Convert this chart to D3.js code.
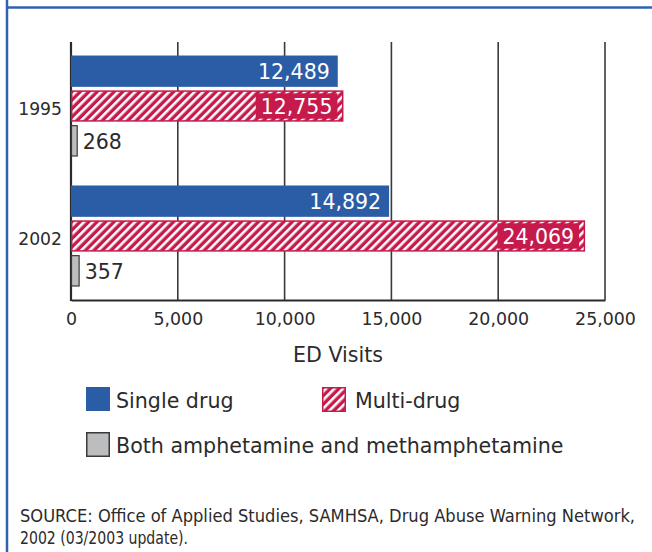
<!DOCTYPE html>
<html>
<head>
<meta charset="utf-8">
<script src="https://cdn.jsdelivr.net/npm/d3@7"></script>
<style>
  html, body { margin: 0; padding: 0; background: #fff; }
  svg { display: block; }
  text { font-family: "DejaVu Sans", sans-serif; fill: #2b2b2b; }
</style>
</head>
<body>
<svg id="chart" width="652" height="552"></svg>
<script>
// ---- Data ----
const years = ["1995", "2002"];
const seriesNames = ["Single drug", "Multi-drug", "Both amphetamine and methamphetamine"];
const singleDrug = [12489, 14892];
const multiDrug = [12755, 24069];
const bothDrugs = [268, 357];
const xTickValues = [0, 5000, 10000, 15000, 20000, 25000];
const axisTitle = "ED Visits";
const sourceLines = [
  "SOURCE:  Office of Applied Studies, SAMHSA, Drug Abuse Warning Network,",
  "2002 (03/2003 update)."
];

// ---- Styles ----
const BLUE = "#2a5da6";
const CRIMSON = "#c61a4c";
const GRAY = "#bcbdbf";
const FRAME = "#2f63ae";
const GRID = "#3a3a3a";

const svg = d3.select("#chart");
const fmt = d3.format(",");

// pattern for multi-drug
const defs = svg.append("defs");
const pat = defs.append("pattern")
  .attr("id", "hatch")
  .attr("patternUnits", "userSpaceOnUse")
  .attr("width", 6).attr("height", 6)
  .attr("patternTransform", "rotate(45)");
pat.append("rect").attr("width", 6).attr("height", 6).attr("fill", CRIMSON);
pat.append("rect").attr("x", 0).attr("width", 2.6).attr("height", 6).attr("fill", "#fff");

// frame
svg.append("line").attr("x1", 7).attr("x2", 7).attr("y1", 0).attr("y2", 552)
  .attr("stroke", FRAME).attr("stroke-width", 2.5);
svg.append("line").attr("x1", 7).attr("x2", 652).attr("y1", 7.5).attr("y2", 7.5)
  .attr("stroke", FRAME).attr("stroke-width", 2.5);

// scales
const plotTop = 42, plotBottom = 300;
const x = d3.scaleLinear().domain([0, 25000]).range([71, 605]);
const y = d3.scaleBand().domain(years).range([plotTop, plotBottom])
  .paddingInner(0.223).paddingOuter(0.104);
const ySub = d3.scaleBand().domain(seriesNames).range([0, y.bandwidth()])
  .paddingInner(0.1).paddingOuter(0);

// gridlines
svg.append("g").selectAll("line").data(xTickValues.slice(1)).join("line")
  .attr("x1", d => x(d)).attr("x2", d => x(d))
  .attr("y1", plotTop).attr("y2", plotBottom)
  .attr("stroke", GRID).attr("stroke-width", 1.6);

// x axis
const xAxis = svg.append("g").attr("transform", `translate(0,${plotBottom})`)
  .call(d3.axisBottom(x).tickValues(xTickValues).tickFormat(fmt).tickSize(0).tickPadding(10));
xAxis.select(".domain").attr("stroke", "#2b2b2b").attr("stroke-width", 2.2);
xAxis.selectAll("text").attr("font-size", "17.4px").attr("font-family", "DejaVu Sans")
  .attr("fill", "#2b2b2b").attr("dy", "0.71em").attr("y", 13);

// y axis line
svg.append("line").attr("x1", x(0)).attr("x2", x(0)).attr("y1", plotTop).attr("y2", plotBottom + 1)
  .attr("stroke", "#2b2b2b").attr("stroke-width", 2.2);

// year labels
svg.append("g").selectAll("text").data(years).join("text")
  .attr("x", 62).attr("y", d => y(d) + y.bandwidth() / 2 + 3)
  .attr("text-anchor", "end").attr("dominant-baseline", "central")
  .attr("font-size", "17.2px").text(d => d);

// bars
const groups = svg.append("g").selectAll("g").data(years).join("g")
  .attr("transform", d => `translate(0,${y(d)})`);

// single drug
groups.append("rect")
  .attr("x", x(0)).attr("y", ySub(seriesNames[0]))
  .attr("width", (d, i) => x(singleDrug[i]) - x(0)).attr("height", ySub.bandwidth())
  .attr("fill", BLUE);
groups.append("text")
  .attr("x", (d, i) => x(singleDrug[i]) - 8)
  .attr("y", ySub(seriesNames[0]) + ySub.bandwidth() / 2 + 1)
  .attr("text-anchor", "end").attr("dominant-baseline", "central")
  .attr("font-size", "20.5px").style("fill", "#fff")
  .text((d, i) => fmt(singleDrug[i]));

// multi drug
groups.append("rect")
  .attr("x", x(0) + 0.75).attr("y", ySub(seriesNames[1]) + 0.75)
  .attr("width", (d, i) => x(multiDrug[i]) - x(0) - 1.5).attr("height", ySub.bandwidth() - 1.5)
  .attr("fill", "url(#hatch)").attr("stroke", CRIMSON).attr("stroke-width", 1.5);
const mBox = groups.append("rect")
  .attr("fill", CRIMSON);
const mText = groups.append("text")
  .attr("x", (d, i) => x(multiDrug[i]) - 11)
  .attr("y", ySub(seriesNames[1]) + ySub.bandwidth() / 2 + 1)
  .attr("text-anchor", "end").attr("dominant-baseline", "central")
  .attr("font-size", "20.5px").style("fill", "#fff")
  .text((d, i) => fmt(multiDrug[i]));
mText.each(function (d, i) {
  const w = this.getComputedTextLength();
  const right = x(multiDrug[i]) - 6;
  const left = x(multiDrug[i]) - 11 - w - 5;
  d3.select(mBox.nodes()[i])
    .attr("x", left).attr("width", right - left)
    .attr("y", ySub(seriesNames[1]) + 3).attr("height", ySub.bandwidth() - 6);
});

// both
groups.append("rect")
  .attr("x", x(0) + 0.5).attr("y", ySub(seriesNames[2]) + 0.5)
  .attr("width", (d, i) => x(bothDrugs[i]) - x(0)).attr("height", ySub.bandwidth() - 1)
  .attr("fill", GRAY).attr("stroke", "#3a3a3a").attr("stroke-width", 1.2);
groups.append("text")
  .attr("x", (d, i) => x(bothDrugs[i]) + 6)
  .attr("y", ySub(seriesNames[2]) + ySub.bandwidth() / 2 + 1)
  .attr("dominant-baseline", "central")
  .attr("font-size", "20.5px")
  .text((d, i) => fmt(bothDrugs[i]));

// axis title
svg.append("text").attr("x", (x(0) + x(25000)) / 2).attr("y", 362)
  .attr("text-anchor", "middle").attr("font-size", "20.6px").text(axisTitle);

// legend
const legend = [
  { name: seriesNames[0], x: 86, y: 387, fill: BLUE, stroke: "none" },
  { name: seriesNames[1], x: 322, y: 387, fill: "url(#hatch)", stroke: CRIMSON },
  { name: seriesNames[2], x: 86, y: 432, fill: GRAY, stroke: "#3a3a3a" }
];
const lg = svg.append("g").selectAll("g").data(legend).join("g");
lg.append("rect")
  .attr("x", d => d.x + (d.stroke === "none" ? 0 : 0.75))
  .attr("y", d => d.y + (d.stroke === "none" ? 0 : 0.75))
  .attr("width", d => d.stroke === "none" ? 24 : 22.5)
  .attr("height", d => d.stroke === "none" ? 24 : 23.5)
  .attr("fill", d => d.fill).attr("stroke", d => d.stroke).attr("stroke-width", 1.5);
lg.append("text")
  .attr("x", d => d.x + (d.name === seriesNames[1] ? 33 : 30))
  .attr("y", d => d.y + 21)
  .attr("font-size", "20.6px")
  .text(d => d.name);

// source
const srcWidths = [615, 168];
svg.append("g").selectAll("text").data(sourceLines).join("text")
  .attr("x", 20).attr("y", (d, i) => 522 + i * 22)
  .attr("font-family", "'Liberation Sans Narrow', 'DejaVu Sans Condensed', sans-serif")
  .style("font-family", "'Liberation Sans Narrow', 'DejaVu Sans Condensed', sans-serif")
  .attr("font-size", "18px")
  .attr("textLength", (d, i) => srcWidths[i])
  .attr("lengthAdjust", "spacingAndGlyphs")
  .text(d => d);
</script>
</body>
</html>
